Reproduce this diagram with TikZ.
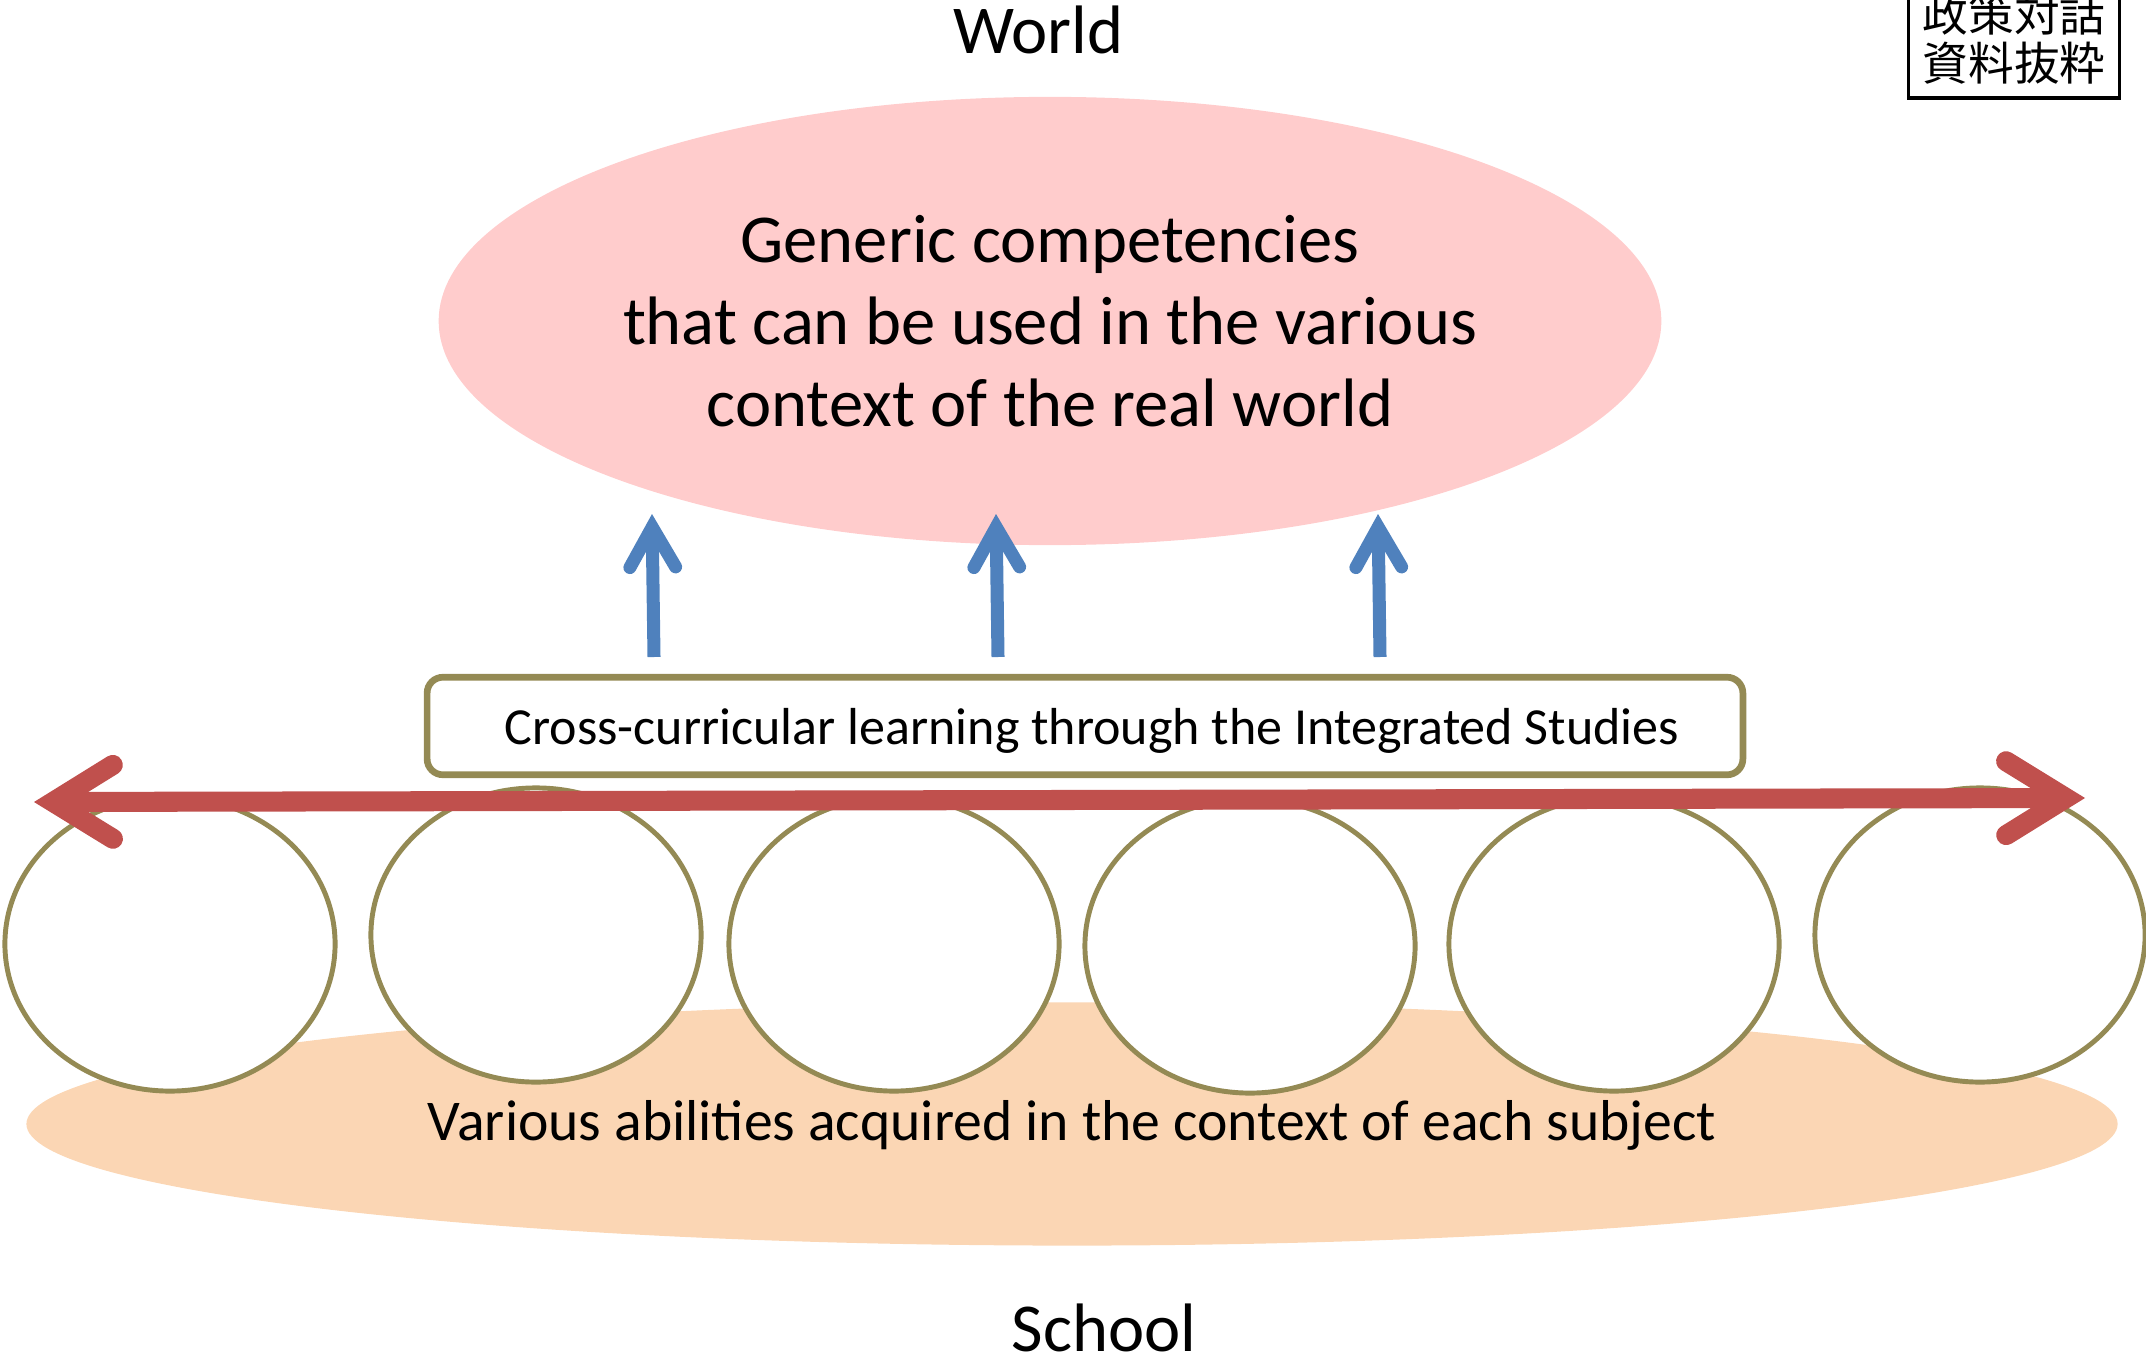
\documentclass[tikz,border=0pt]{standalone}
\usepackage{fontspec}
\setmainfont{Carlito}
\newfontfamily\jpfont{Noto Sans CJK JP}
\usetikzlibrary{arrows.meta, shapes.geometric, positioning}
\definecolor{PinkFill}{RGB}{255,204,204}
\definecolor{PeachFill}{RGB}{251,214,180}
\definecolor{OliveLine}{RGB}{148,138,84}
\definecolor{RedArrow}{RGB}{192,80,77}
\definecolor{BlueArrow}{RGB}{79,129,189}

\begin{document}
\begin{tikzpicture}[x=0.01cm, y=-0.01cm,
		subject/.style={ellipse, draw=OliveLine, line width=1.4pt, fill=white, minimum width=3.3cm, minimum height=2.94cm},
		bigtext/.style={font=\fontsize{19.5}{23.4}\selectfont, align=center},
		uparrow/.style={draw=BlueArrow, line width=3.7pt, -{Straight Barb[length=11.4pt, width=13pt, line cap=round, line join=miter]}},
		crossarrow/.style={draw=RedArrow, line width=5.7pt, {Straight Barb[length=17pt, width=21pt, line cap=round, line join=miter]}-{Straight Barb[length=17pt, width=21pt, line cap=round, line join=miter]}},
	]
	\useasboundingbox (0,0) rectangle (2146,1358);
	\node[ellipse, fill=PinkFill, inner sep=0pt, minimum width=12.22cm, minimum height=4.48cm, bigtext] (generic) at (1050,321)
		{Generic competencies\\that can be used in the various\\context of the real world};
	\node[bigtext] (world) at (1038,30) {World};
	\node[bigtext] (school) at (1104,1328) {School};
	\node[ellipse, fill=PeachFill, minimum width=20.9cm, minimum height=2.43cm] (base) at (1072,1124) {};
	\foreach \x/\y [count=\i] in {170/944, 536/935, 894/944, 1250/946, 1614/944, 1980/935}
		\node[subject] (s\i) at (\x,\y) {};
	\node[font=\fontsize{16.4}{19}\selectfont] (abilities) at (1072,1125) {Various abilities acquired in the context of each subject};
	\node[draw=OliveLine, line width=1.9pt, rounded corners=4.5pt, fill=white, minimum width=13.15cm, minimum height=0.975cm,
		text depth=0pt, font=\fontsize{14.8}{17}\selectfont] (cross) at (1085,726) {\hspace{1.4mm}Cross-curricular learning through the Integrated Studies};
	\coordinate (west) at (34,802);
	\coordinate (east) at (2085,798);
	\draw[crossarrow] (east) -- (west);
	\foreach \x/\t [count=\i] in {654/652, 998/996, 1380/1378}{
		\coordinate (f\i) at (\x,657);
		\coordinate (t\i) at (\t,514);
		\draw[uparrow] (f\i) -- (t\i);
	}
	\node[draw, line width=1pt, minimum width=2.02cm, inner sep=4pt, anchor=south, align=center,
		font=\jpfont\fontsize{13}{14}\selectfont] (excerpt) at (2014,100) {政策対話\\資料抜粋};
\end{tikzpicture}
\end{document}
